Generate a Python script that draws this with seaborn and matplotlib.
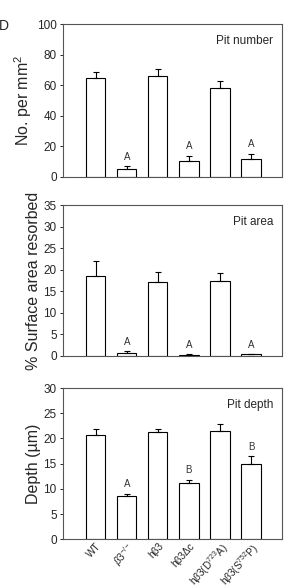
import numpy as np
import pandas as pd
import matplotlib
matplotlib.use("Agg")
import matplotlib.pyplot as plt
import seaborn as sns

sns.set_style("ticks")
plt.rcParams['font.family'] = ['Liberation Sans', 'DejaVu Sans']
plt.rcParams['mathtext.fontset'] = 'custom'
plt.rcParams['mathtext.rm'] = 'Liberation Sans'
plt.rcParams['mathtext.it'] = 'Liberation Sans:italic'

# data
groups = ['WT', r'$\it{\beta}$3$^{-/-}$', 'h\u03b23', 'h\u03b23\u0394c',
          r'h$\beta$3(D$^{723}$A)', r'h$\beta$3(S$^{752}$P)']

pit_number = [65, 5.5, 66, 10.5, 58, 12]
pit_number_err = [4, 1.5, 4.5, 3.5, 5, 3]
pit_number_sig = ['', 'A', '', 'A', '', 'A']

pit_area = [18.6, 0.7, 17.1, 0.2, 17.3, 0.3]
pit_area_err = [3.4, 0.3, 2.4, 0.1, 2.0, 0.1]
pit_area_sig = ['', 'A', '', 'A', '', 'A']

pit_depth = [20.6, 8.5, 21.3, 11.1, 21.4, 15.0]
pit_depth_err = [1.2, 0.5, 0.6, 0.7, 1.5, 1.5]
pit_depth_sig = ['', 'A', '', 'B', '', 'B']

panels = [
    ('Pit number', 'No. per mm$^2$', pit_number, pit_number_err, pit_number_sig, 100, 20),
    ('Pit area', '% Surface area resorbed', pit_area, pit_area_err, pit_area_sig, 35, 5),
    ('Pit depth', 'Depth (\u00b5m)', pit_depth, pit_depth_err, pit_depth_sig, 30, 5),
]

fig = plt.figure(figsize=(2.86, 5.88), dpi=100)
boxes = [(0.220, 0.699, 0.766, 0.260),
         (0.220, 0.395, 0.766, 0.256),
         (0.220, 0.083, 0.766, 0.257)]

for i, (title, ylab, vals, errs, sig, ymax, step) in enumerate(panels):
    ax = fig.add_axes(boxes[i])
    df = pd.DataFrame({'group': groups, 'value': vals})
    sns.barplot(data=df, x='group', y='value', color='white', edgecolor='black',
                linewidth=0.8, width=0.62, errorbar=None, ax=ax)
    x = np.arange(len(vals))
    ax.errorbar(x, vals, yerr=[np.zeros(len(errs)), errs], fmt='none',
                ecolor='black', elinewidth=0.8, capsize=2.5, capthick=0.8)
    for xi, v, e, s in zip(x, vals, errs, sig):
        if s:
            ax.text(xi, v + e + ymax * 0.03, s, ha='center', va='bottom',
                    fontsize=7, color='#333333')
    ax.set_xlim(-1.06, 6.0)
    ax.set_ylim(0, ymax)
    ax.set_yticks(np.arange(0, ymax + 0.1, step))
    ax.set_ylabel(ylab, fontsize=11.5, labelpad=2)
    ax.set_xlabel('')
    ax.text(0.96, 0.93, title, transform=ax.transAxes, ha='right', va='top', fontsize=8.5)
    ax.tick_params(axis='y', labelsize=8.5, length=2.5, width=0.7, pad=2)
    for sp in ax.spines.values():
        sp.set_visible(True)
        sp.set_linewidth(0.8)
        sp.set_color('#555555')
    if i < 2:
        ax.set_xticks([])
    else:
        ax.tick_params(axis='x', length=0, labelsize=7.2, pad=1)
        ax.set_xticks(x)
        ax.set_xticklabels(groups, rotation=48, ha='right', rotation_mode='anchor')

fig.text(-0.005, 0.955, 'D', fontsize=10, ha='left', va='center')
fig.savefig('out.png', dpi=100)
